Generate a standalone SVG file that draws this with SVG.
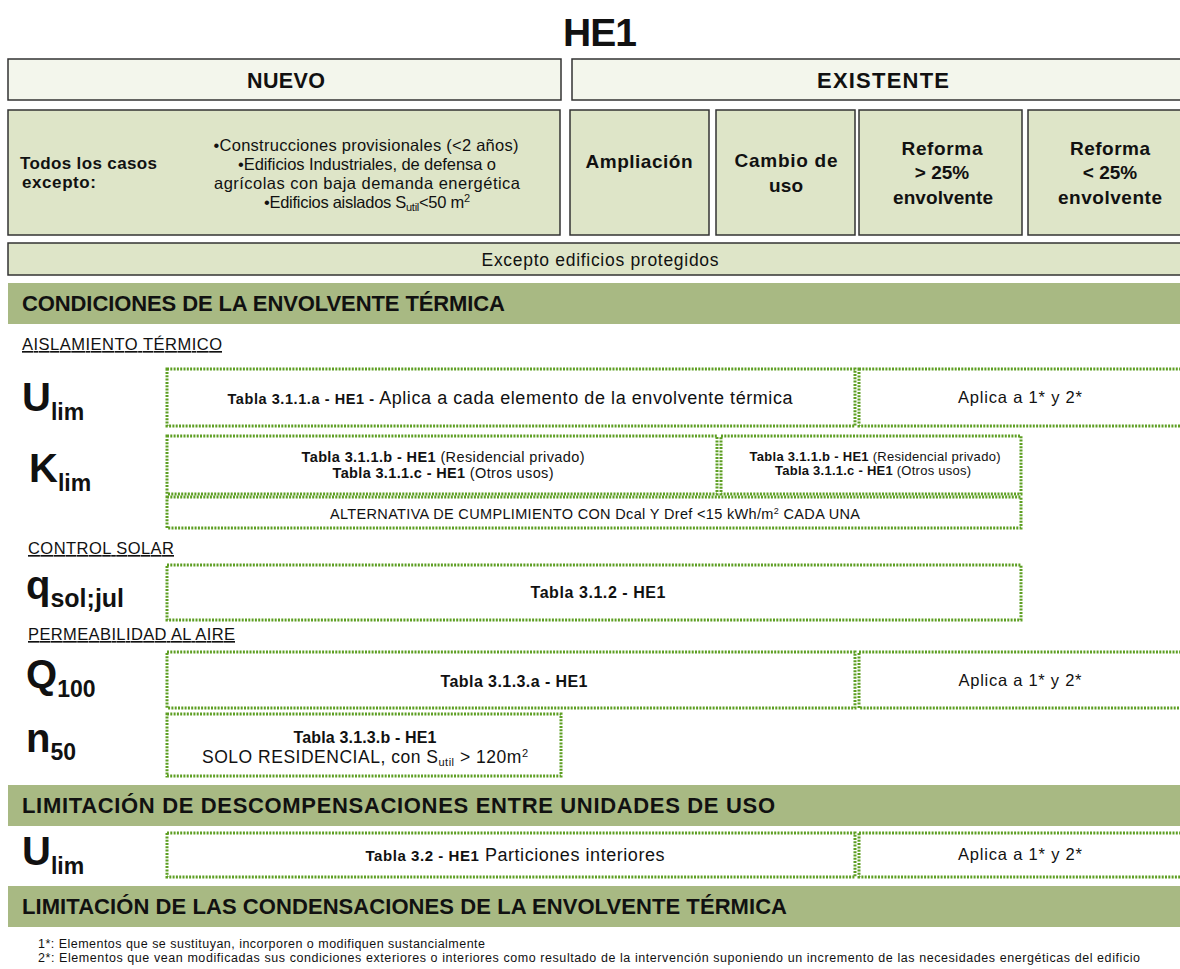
<svg xmlns="http://www.w3.org/2000/svg" width="1180" height="969" viewBox="0 0 1180 969">
<style>
text{font-family:"Liberation Sans",Arial,sans-serif;fill:#111}
.b{font-weight:bold}
.hdr{fill:#f3f6ec;stroke:#333;stroke-width:1.5}
.box{fill:#dee5c8;stroke:#333;stroke-width:1.5}
.bar{fill:#a8b983}
.dot{fill:#fff;stroke:#5d9e22;stroke-width:3;stroke-dasharray:2 1.3}
.bt{font-size:22px;font-weight:bold}
.sec{font-size:16.5px;text-decoration:underline}
.sym{font-size:40px;font-weight:bold}
.sub{font-size:23px;font-weight:bold}
.c{text-anchor:middle}
</style>
<text x="600" y="46" class="c b" font-size="39" textLength="74">HE1</text>
<g id="nuevo"><rect class="hdr" x="8" y="59" width="553" height="41"/><text x="286" y="88" class="c b" font-size="21.5" textLength="78">NUEVO</text></g>
<g id="existente"><rect class="hdr" x="572" y="59" width="620" height="41"/><text x="883" y="88" class="c b" font-size="22" textLength="132">EXISTENTE</text></g>
<g id="todos"><rect class="box" x="8" y="110" width="552" height="125"/>
<text x="20" y="169" class="b" font-size="17" textLength="137">Todos los casos</text>
<text x="22" y="188" class="b" font-size="17" textLength="74">excepto:</text>
<text x="366" y="151" class="c" font-size="16.5" textLength="305">•Construcciones provisionales (&lt;2 años)</text>
<text x="367" y="170" class="c" font-size="16.5" textLength="258">•Edificios Industriales, de defensa o</text>
<text x="367" y="189" class="c" font-size="16.5" textLength="306">agrícolas con baja demanda energética</text>
<text x="367" y="208" class="c" font-size="16.5" textLength="206">•Edificios aislados S<tspan font-size="11" dy="3">util</tspan><tspan dy="-3">&lt;50 m</tspan><tspan font-size="11" dy="-6">2</tspan></text>
</g>
<g id="ampliacion"><rect class="box" x="570" y="110" width="139" height="125"/><text x="639" y="168" class="c b" font-size="19" textLength="107">Ampliación</text></g>
<g id="cambio"><rect class="box" x="716" y="110" width="139" height="125"/><text x="786" y="167" class="c b" font-size="19" textLength="103">Cambio de</text><text x="786" y="192" class="c b" font-size="19" textLength="34">uso</text></g>
<g id="reforma-mas"><rect class="box" x="859" y="110" width="163" height="125"/><text x="942" y="155" class="c b" font-size="19" textLength="81">Reforma</text><text x="942" y="179" class="c b" font-size="19">&gt; 25%</text><text x="943" y="204" class="c b" font-size="19" textLength="100">envolvente</text></g>
<g id="reforma-menos"><rect class="box" x="1028" y="110" width="164" height="125"/><text x="1110" y="155" class="c b" font-size="19" textLength="80">Reforma</text><text x="1110" y="179" class="c b" font-size="19">&lt; 25%</text><text x="1110" y="204" class="c b" font-size="19" textLength="104">envolvente</text></g>
<g id="excepto"><rect class="box" x="8" y="243" width="1184" height="32"/><text x="600" y="266" class="c" font-size="17.5" textLength="237">Excepto edificios protegidos</text></g>
<g id="bar1"><rect class="bar" x="8" y="283" width="1172" height="41"/><text x="22" y="311" class="bt" textLength="483">CONDICIONES DE LA ENVOLVENTE TÉRMICA</text></g>
<text x="22" y="350" class="sec" textLength="200">AISLAMIENTO TÉRMICO</text>
<g id="ulim"><text x="22" y="411" class="sym">U<tspan class="sub" dy="9">lim</tspan></text></g>
<g id="u-tabla"><rect class="dot" x="167" y="369" width="688" height="57"/><text x="510" y="404" class="c" font-size="18" textLength="565"><tspan class="b" font-size="14.5">Tabla 3.1.1.a - HE1 -</tspan> Aplica a cada elemento de la envolvente térmica</text></g>
<g id="u-aplica"><rect class="dot" x="859" y="369" width="330" height="57"/><text x="1020" y="403" class="c" font-size="16.5" textLength="124">Aplica a 1* y  2*</text></g>
<g id="klim"><text x="29" y="482" class="sym">K<tspan class="sub" dy="9">lim</tspan></text></g>
<g id="k-tabla1"><rect class="dot" x="167" y="436" width="550" height="58"/><text x="443" y="462" class="c" font-size="14.5" textLength="283"><tspan class="b">Tabla 3.1.1.b - HE1</tspan> (Residencial privado)</text><text x="443" y="478" class="c" font-size="14.5" textLength="221"><tspan class="b">Tabla 3.1.1.c - HE1</tspan> (Otros usos)</text></g>
<g id="k-tabla2"><rect class="dot" x="721" y="436" width="300" height="58"/><text x="875" y="461" class="c" font-size="13" textLength="251"><tspan class="b">Tabla 3.1.1.b - HE1</tspan> (Residencial privado)</text><text x="873" y="475" class="c" font-size="13" textLength="196"><tspan class="b">Tabla 3.1.1.c - HE1</tspan> (Otros usos)</text></g>
<g id="k-alt"><rect class="dot" x="167" y="497" width="854" height="31"/><text x="595" y="519" class="c" font-size="14.5" textLength="530">ALTERNATIVA DE CUMPLIMIENTO CON Dcal Y Dref &lt;15 kWh/m<tspan font-size="9" dy="-5">2</tspan><tspan dy="5"> CADA UNA</tspan></text></g>
<text x="28" y="554" class="sec" textLength="146">CONTROL SOLAR</text>
<g id="qsol"><text x="26" y="599" class="sym">q<tspan class="b" font-size="25" dy="8">sol;jul</tspan></text></g>
<g id="q-tabla"><rect class="dot" x="167" y="565" width="854" height="55"/><text x="598" y="598" class="c b" font-size="16" textLength="135">Tabla 3.1.2 - HE1</text></g>
<text x="28" y="640" class="sec" textLength="207">PERMEABILIDAD AL AIRE</text>
<g id="q100"><text x="26" y="688" class="sym">Q<tspan class="sub" dy="9">100</tspan></text></g>
<g id="q100-tabla"><rect class="dot" x="167" y="652" width="688" height="56"/><text x="514" y="687" class="c b" font-size="16" textLength="147">Tabla 3.1.3.a - HE1</text></g>
<g id="q100-aplica"><rect class="dot" x="859" y="652" width="330" height="56"/><text x="1020" y="686" class="c" font-size="16.5" textLength="123">Aplica a 1* y 2*</text></g>
<g id="n50"><text x="26" y="752" class="sym">n<tspan class="sub" dy="8">50</tspan></text></g>
<g id="n50-tabla"><rect class="dot" x="167" y="714" width="394" height="62"/><text x="365" y="743" class="c b" font-size="16" textLength="143">Tabla 3.1.3.b - HE1</text><text x="365" y="763" class="c" font-size="17.5" textLength="326">SOLO RESIDENCIAL, con S<tspan font-size="11" dy="3">util</tspan><tspan dy="-3"> &gt; 120m</tspan><tspan font-size="11" dy="-6">2</tspan></text></g>
<g id="bar2"><rect class="bar" x="8" y="785" width="1172" height="41"/><text x="22" y="813" class="bt" textLength="753">LIMITACIÓN DE DESCOMPENSACIONES ENTRE UNIDADES DE USO</text></g>
<g id="ulim2"><text x="22" y="865" class="sym">U<tspan class="sub" dy="9">lim</tspan></text></g>
<g id="u2-tabla"><rect class="dot" x="167" y="833" width="688" height="44"/><text x="515" y="861" class="c" font-size="18" textLength="299"><tspan class="b" font-size="15">Tabla 3.2 - HE1</tspan> Particiones interiores</text></g>
<g id="u2-aplica"><rect class="dot" x="859" y="833" width="330" height="44"/><text x="1020" y="860" class="c" font-size="16.5" textLength="124">Aplica a 1* y 2*</text></g>
<g id="bar3"><rect class="bar" x="8" y="886" width="1172" height="41"/><text x="22" y="914" class="bt" textLength="765">LIMITACIÓN DE LAS CONDENSACIONES DE LA ENVOLVENTE TÉRMICA</text></g>
<text x="38" y="948" font-size="12.5" textLength="447">1*:  Elementos que se sustituyan,  incorporen o modifiquen sustancialmente</text>
<text x="38" y="962" font-size="12.5" textLength="1102">2*:  Elementos que vean modificadas sus condiciones exteriores o interiores como resultado de la intervención suponiendo un incremento de las necesidades energéticas del edificio</text>
<g id="connectors"/>
</svg>
